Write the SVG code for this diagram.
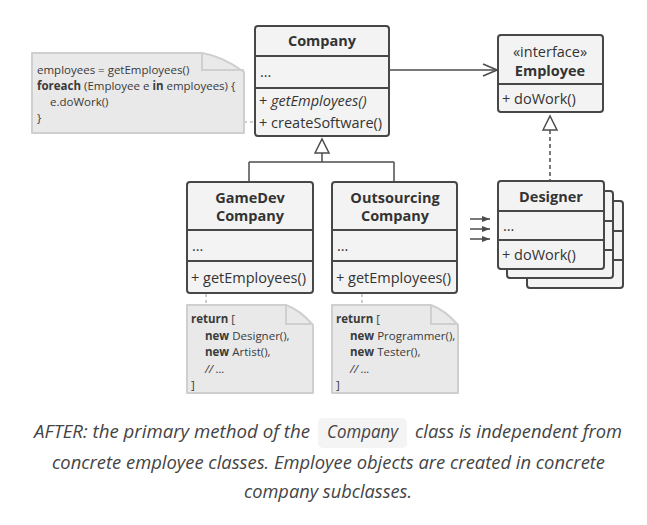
<svg xmlns="http://www.w3.org/2000/svg" width="647" height="525" viewBox="0 0 647 525">
<defs>
<style>
.box{fill:#f3f3f3;stroke:#474747;stroke-width:2}
.dv{stroke:#474747;stroke-width:2;fill:none}
.note{fill:#e9e9e9;stroke:#cfcfcf;stroke-width:2;stroke-linejoin:round}
.fold{fill:none;stroke:#cfcfcf;stroke-width:2}
.conn{stroke:#4d4d4d;stroke-width:1.5;fill:none}
.dash{stroke-dasharray:4 3}
.ndash{stroke:#bdbdbd;stroke-width:1.5;stroke-dasharray:3 3;fill:none}
text{font-family:"Open Sans","Noto Sans",sans-serif;fill:#333}
.t{font-size:14.5px}
.b{font-weight:bold}
.c{text-anchor:middle}
.n{font-size:11.5px;fill:#3a3a3a}
.cap{font-size:18px;font-style:italic;fill:#444;font-family:"Open Sans","Noto Sans",sans-serif}
</style>
<marker id="open" viewBox="0 0 16 14" refX="15" refY="7" markerWidth="16" markerHeight="14" markerUnits="userSpaceOnUse" orient="auto">
<path d="M1,1 L15,7 L1,13" fill="none" stroke="#4d4d4d" stroke-width="1.5"/>
</marker>
<marker id="small" viewBox="0 0 8 6" refX="8" refY="3" markerWidth="8" markerHeight="6" markerUnits="userSpaceOnUse" orient="auto">
<path d="M0,0 L8,3 L0,6 Z" fill="#4d4d4d"/>
</marker>
</defs>

<g id="connectors">
<line class="conn" x1="389" y1="70" x2="497" y2="70" marker-end="url(#open)"/>
<path class="conn" d="M322,153 V162 M249,162 H394 M249,162 V182 M394,162 V182"/>
<path class="conn" d="M315,153 L322,139 L329,153 Z" fill="#fff"/>
<path class="conn dash" d="M550,130 V181"/>
<path class="conn" d="M543,130 L550,116 L557,130 Z" fill="#fff"/>
<line class="conn" x1="470" y1="219" x2="490" y2="219" marker-end="url(#small)"/>
<line class="conn" x1="470" y1="229" x2="490" y2="229" marker-end="url(#small)"/>
<line class="conn" x1="470" y1="239" x2="490" y2="239" marker-end="url(#small)"/>
<line class="ndash" x1="244" y1="122" x2="255" y2="122"/>
<line class="ndash" x1="206" y1="294" x2="206" y2="305"/>
<line class="ndash" x1="362" y1="294" x2="362" y2="305"/>
</g>

<g id="note-main">
<path class="note" d="M32,53 H202 Q222,56 244,72 V133 H32 Z"/>
<path class="fold" d="M202,53 V70 H244"/>
<text class="n" x="37" y="74">employees = getEmployees()</text>
<text class="n" x="37" y="90"><tspan class="b">foreach</tspan> (Employee e <tspan class="b">in</tspan> employees) {</text>
<text class="n" x="50" y="106">e.doWork()</text>
<text class="n" x="37" y="122">}</text>
</g>

<g id="company">
<rect class="box" x="255" y="26" width="134" height="110" rx="3"/>
<path class="dv" d="M255,56 H389 M255,88 H389"/>
<text class="t b c" x="322" y="46">Company</text>
<text class="t" x="260" y="77">...</text>
<text class="t" x="259" y="106">+ <tspan font-style="italic">getEmployees()</tspan></text>
<text class="t" x="259" y="128">+ createSoftware()</text>
</g>

<g id="employee">
<rect class="box" x="498" y="35" width="105" height="77" rx="3"/>
<path class="dv" d="M498,84 H603"/>
<text class="t c" x="550" y="57">«interface»</text>
<text class="t b c" x="550" y="76">Employee</text>
<text class="t" x="502" y="104">+ doWork()</text>
</g>

<g id="gamedev">
<rect class="box" x="187" y="182" width="126" height="111" rx="3"/>
<path class="dv" d="M187,230 H313 M187,261 H313"/>
<text class="t b c" x="250" y="203">GameDev</text>
<text class="t b c" x="250" y="221">Company</text>
<text class="t" x="192" y="251">...</text>
<text class="t" x="191" y="283">+ getEmployees()</text>
</g>

<g id="outsourcing">
<rect class="box" x="332" y="182" width="125" height="111" rx="3"/>
<path class="dv" d="M332,230 H457 M332,261 H457"/>
<text class="t b c" x="395" y="203">Outsourcing</text>
<text class="t b c" x="395" y="221">Company</text>
<text class="t" x="337" y="251">...</text>
<text class="t" x="336" y="283">+ getEmployees()</text>
</g>

<g id="designer">
<rect class="box" x="527" y="201" width="96" height="87" rx="3"/>
<path class="dv" d="M604,231 H623 M604,260 H623"/>
<rect class="box" x="507" y="191" width="106" height="87" rx="3"/>
<path class="dv" d="M604,221 H613 M604,250 H613"/>
<rect class="box" x="498" y="181" width="106" height="88" rx="3"/>
<path class="dv" d="M498,211 H604 M498,240 H604"/>
<text class="t b c" x="551" y="202">Designer</text>
<text class="t" x="503" y="231">...</text>
<text class="t" x="502" y="260">+ doWork()</text>
</g>

<g id="note-gamedev">
<path class="note" d="M187,305 H286 Q300,310 313,325 V393 H187 Z"/>
<path class="fold" d="M286,305 V324 H313"/>
<text class="n" x="191" y="323"><tspan class="b">return</tspan> [</text>
<text class="n" x="205" y="340"><tspan class="b">new</tspan> Designer(),</text>
<text class="n" x="205" y="356"><tspan class="b">new</tspan> Artist(),</text>
<text class="n" x="205" y="373" font-style="italic" fill="#888">// ...</text>
<text class="n" x="191" y="389">]</text>
</g>

<g id="note-outsourcing">
<path class="note" d="M332,305 H431 Q445,310 458,325 V393 H332 Z"/>
<path class="fold" d="M431,305 V324 H458"/>
<text class="n" x="336" y="323"><tspan class="b">return</tspan> [</text>
<text class="n" x="350" y="340"><tspan class="b">new</tspan> Programmer(),</text>
<text class="n" x="350" y="356"><tspan class="b">new</tspan> Tester(),</text>
<text class="n" x="350" y="373" font-style="italic" fill="#888">// ...</text>
<text class="n" x="336" y="389">]</text>
</g>

<g id="caption">
<rect x="318" y="418" width="89" height="30" rx="5" fill="#f4f4f4"/>
<text class="cap" x="34" y="438" textLength="276" lengthAdjust="spacingAndGlyphs">AFTER: the primary method of the</text>
<text class="cap" x="327" y="438" textLength="71" lengthAdjust="spacingAndGlyphs">Company</text>
<text class="cap" x="415" y="438" textLength="207" lengthAdjust="spacingAndGlyphs">class is independent from</text>
<text class="cap" x="52" y="469" textLength="553" lengthAdjust="spacingAndGlyphs">concrete employee classes. Employee objects are created in concrete</text>
<text class="cap" x="244" y="498" textLength="168" lengthAdjust="spacingAndGlyphs">company subclasses.</text>
</g>
</svg>
